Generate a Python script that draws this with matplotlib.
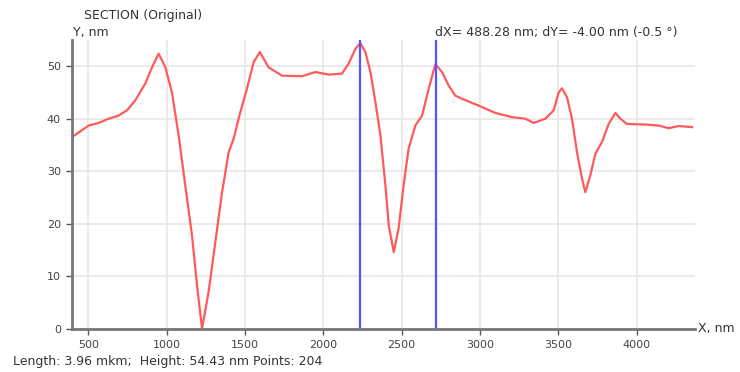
import matplotlib
matplotlib.use("Agg")
import matplotlib.pyplot as plt

# profile (nm)
x_nm = [396, 502, 566, 630, 693, 747, 800, 864, 907, 949, 992, 1034, 1077, 1119,
        1162, 1194, 1226, 1268, 1311, 1354, 1396, 1428, 1471, 1513, 1556, 1595,
        1651, 1737, 1864, 1950, 2035, 2120, 2162, 2205, 2237, 2269, 2301, 2333,
        2365, 2397, 2418, 2450, 2481, 2513, 2545, 2588, 2631, 2673, 2716, 2758,
        2801, 2843, 2886, 2992, 3099, 3205, 3290, 3344, 3418, 3471, 3503, 3524,
        3556, 3588, 3620, 3652, 3673, 3705, 3737, 3780, 3822, 3865, 3897, 3939,
        4057, 4142, 4206, 4269, 4355]
y_nm = [36.5, 38.7, 39.2, 40.0, 40.6, 41.6, 43.5, 46.7, 49.8, 52.4, 49.8, 45.0,
        36.8, 27.3, 17.8, 8.3, 0.0, 7.0, 16.5, 26.0, 33.6, 36.2, 41.3, 45.7,
        50.8, 52.7, 49.8, 48.2, 48.1, 48.9, 48.4, 48.6, 50.5, 53.3, 54.43, 52.7,
        48.9, 43.2, 36.8, 27.3, 19.7, 14.6, 19.1, 27.3, 34.3, 38.7, 40.6, 45.7,
        50.4, 48.9, 46.3, 44.4, 43.8, 42.5, 41.1, 40.3, 40.0, 39.2, 40.0, 41.6,
        45.0, 45.8, 44.1, 40.0, 33.6, 28.6, 26.0, 29.2, 33.3, 35.6, 39.0, 41.1,
        40.0, 39.0, 38.9, 38.7, 38.2, 38.6, 38.4]

markers = [2232, 2720]
x_ticks = [500, 1000, 1500, 2000, 2500, 3000, 3500, 4000]
y_ticks = [0, 10, 20, 30, 40, 50]

plt.rcParams['font.family'] = ['DejaVu Sans']

fig = plt.figure(figsize=(7.4, 3.72), dpi=100)
ax = fig.add_axes([0.0973, 0.1164, 0.8416, 0.7761])

ax.plot(x_nm, y_nm, color='#ff5a5a', lw=1.6, solid_joinstyle='round')
for m in markers:
    ax.axvline(m, color='#5555ff', lw=1.6)

ax.set_xlim(396, 4372)
ax.set_ylim(0, 55)
ax.set_xticks(x_ticks)
ax.set_yticks(y_ticks)
ax.grid(True, color='#e8e8e8', lw=1.2)
ax.set_axisbelow(True)

for s in ['top', 'right']:
    ax.spines[s].set_visible(False)
for s in ['left', 'bottom']:
    ax.spines[s].set_color('#777777')
    ax.spines[s].set_linewidth(2)
ax.tick_params(axis='both', colors='#555555', labelsize=8, length=4, width=1,
               labelcolor='#444444', pad=4)

fig.text(0.1135, 0.958, 'SECTION (Original)', fontsize=9, color='#333333',
         va='center')
fig.text(0.0986, 0.912, 'Y, nm', fontsize=9, color='#333333', va='center')
fig.text(0.943, 0.116, 'X, nm', fontsize=9, color='#333333', va='center')
fig.text(0.588, 0.912, 'dX= 488.28 nm; dY= -4.00 nm (-0.5 °)', fontsize=9,
         color='#333333', va='center')
fig.text(0.0176, 0.027, 'Length: 3.96 mkm;  Height: 54.43 nm Points: 204',
         fontsize=9, color='#333333', va='center')

fig.savefig('out.png', dpi=100)
